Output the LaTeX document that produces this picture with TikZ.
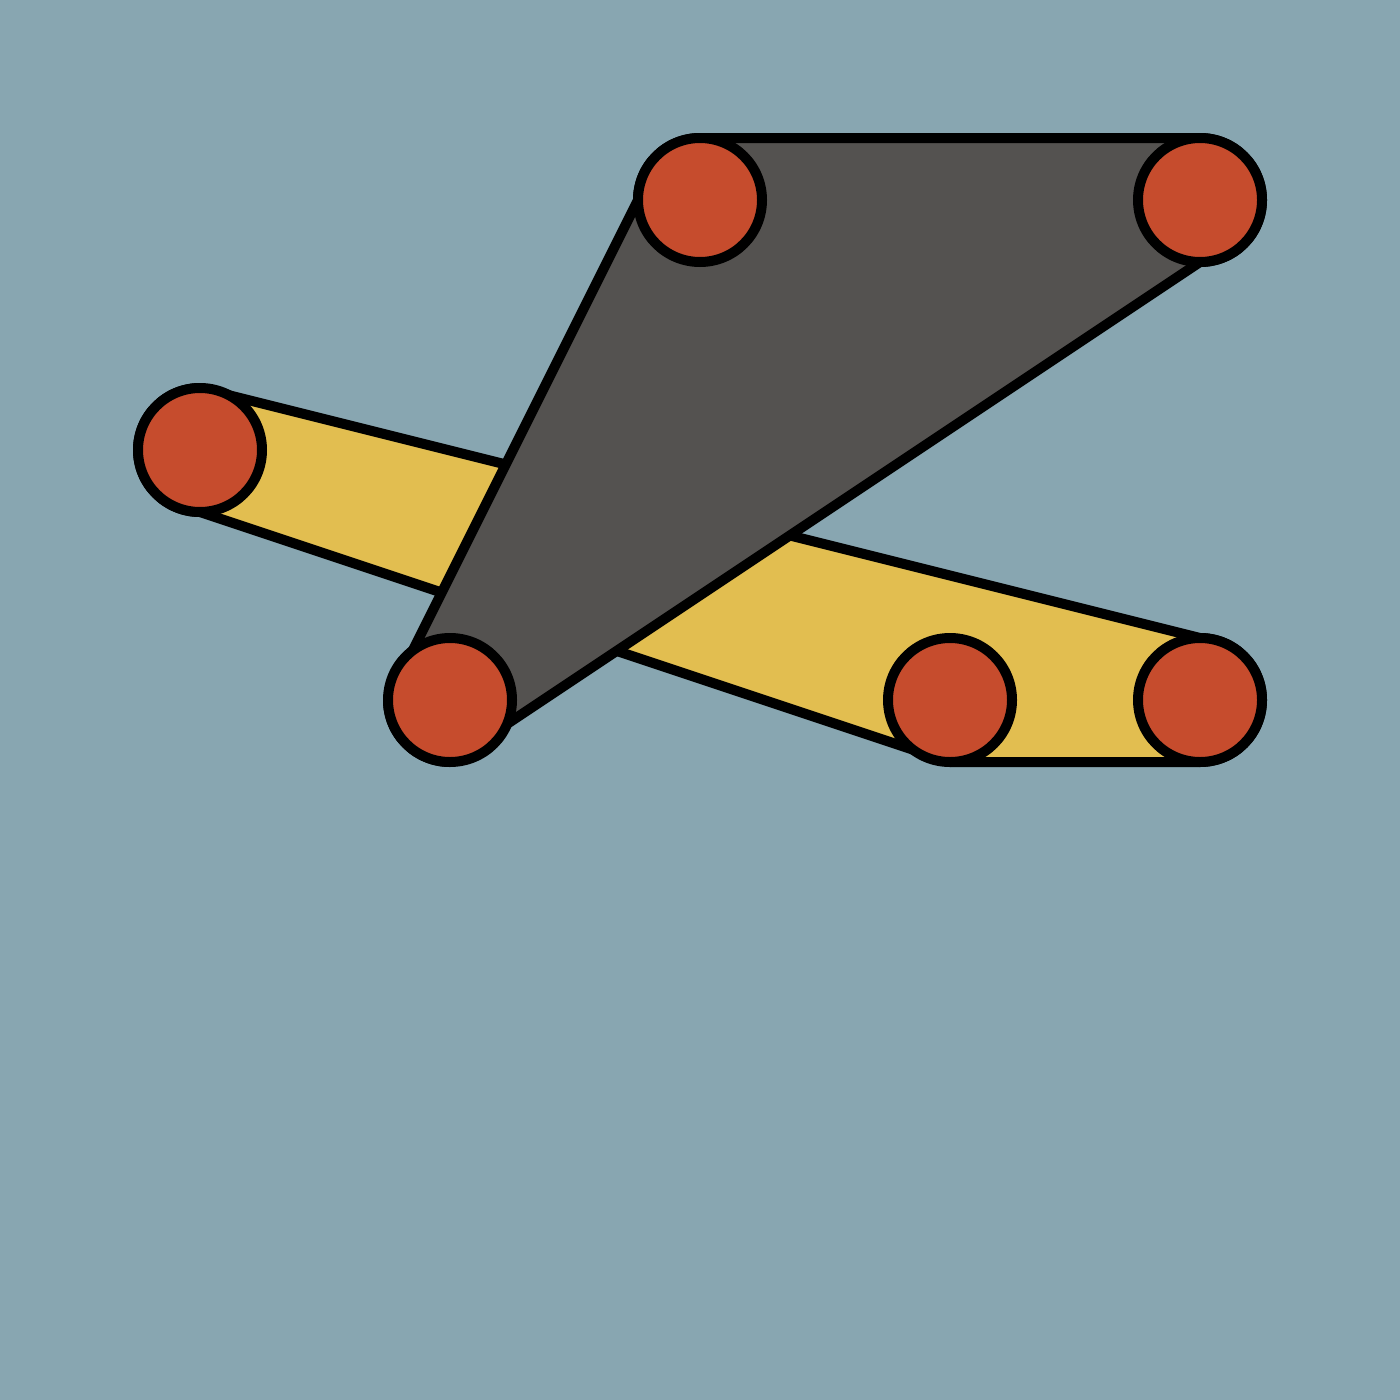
\documentclass[tikz,border=0pt]{standalone}
\usetikzlibrary{calc}
\definecolor{bgc}{RGB}{136,166,177}
\definecolor{yel}{RGB}{226,190,80}
\definecolor{gry}{RGB}{84,82,80}
\definecolor{redc}{RGB}{198,76,45}
\begin{document}
\begin{tikzpicture}[x=1pt,y=-1pt,
  dot/.style={circle,draw=black,fill=redc,line width=10pt,minimum size=124pt,inner sep=0pt},
  hull/.style={draw=black,fill=#1,line width=10pt,line join=round}]
\fill[bgc] (0,0) rectangle (1400,1400);
\useasboundingbox (0,0) rectangle (1400,1400);
\coordinate (a) at (200,450);
\coordinate (b) at (950,700);
\coordinate (c) at (1200,700);
\coordinate (d) at (700,200);
\coordinate (e) at (1200,200);
\coordinate (f) at (450,700);
% yellow hull
\draw[hull=yel] ($(a)+(0,-62)$) -- ($(c)+(0,-62)$)
  arc[start angle=-90,end angle=90,radius=62]
  -- ($(b)+(0,62)$) -- ($(a)+(0,62)$)
  arc[start angle=90,end angle=270,radius=62] -- cycle;
% gray hull
\draw[hull=gry] ($(d)+(-62,0)$) arc[start angle=180,end angle=270,radius=62]
  -- ($(e)+(0,-62)$) arc[start angle=270,end angle=450,radius=62]
  -- ($(f)+(0,62)$) arc[start angle=90,end angle=180,radius=62] -- cycle;
% points
\foreach \p in {a,b,c,d,e,f} \node[dot] (n\p) at (\p) {};
\end{tikzpicture}
\end{document}
